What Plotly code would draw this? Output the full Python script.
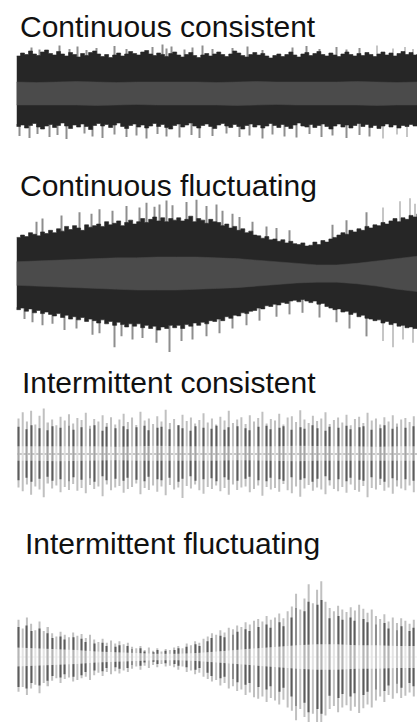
import plotly.graph_objects as go

W, H = 417, 722

TITLES = ["Continuous consistent", "Continuous fluctuating",
          "Intermittent consistent", "Intermittent fluctuating"]

# ---------- Panel 1 : continuous consistent (envelope sampled every 4 samples) ----------
cc_top = [0.76,0.82,0.79,0.86,0.80,0.77,0.84,0.88,0.81,0.78,
          0.85,0.80,0.76,0.83,0.79,0.74,0.81,0.77,0.83,0.86,
          0.80,0.75,0.79,0.73,0.78,0.82,0.76,0.80,0.85,0.81,
          0.78,0.84,0.87,0.80,0.77,0.82,0.79,0.75,0.81,0.84,
          0.78,0.74,0.79,0.83,0.77,0.73,0.78,0.81,0.76,0.80,
          0.84,0.79,0.75,0.80,0.86,0.82,0.77,0.74,0.79,0.83,
          0.78,0.81,0.76,0.72,0.77,0.80,0.75,0.79,0.84,0.78,
          0.74,0.80,0.83,0.77,0.81,0.85,0.79,0.76,0.82,0.78,
          0.75,0.80,0.84,0.79,0.76,0.81,0.77,0.83,0.79,0.75,
          0.80,0.84,0.78,0.82,0.76,0.81,0.85,0.79,0.83,0.78,
          0.80]
cc_bot = [-0.60,-0.65,-0.62,-0.68,-0.63,-0.59,-0.66,-0.70,-0.64,-0.61,
          -0.67,-0.63,-0.58,-0.64,-0.69,-0.62,-0.66,-0.60,-0.65,-0.71,
          -0.63,-0.59,-0.64,-0.61,-0.67,-0.62,-0.58,-0.65,-0.69,-0.63,
          -0.60,-0.66,-0.62,-0.68,-0.64,-0.59,-0.65,-0.61,-0.67,-0.70,
          -0.63,-0.60,-0.66,-0.62,-0.58,-0.64,-0.68,-0.63,-0.60,-0.65,
          -0.69,-0.62,-0.59,-0.64,-0.67,-0.61,-0.65,-0.70,-0.63,-0.60,
          -0.66,-0.62,-0.68,-0.64,-0.59,-0.63,-0.67,-0.61,-0.65,-0.69,
          -0.62,-0.58,-0.64,-0.66,-0.61,-0.67,-0.63,-0.60,-0.65,-0.70,
          -0.64,-0.60,-0.66,-0.62,-0.68,-0.63,-0.59,-0.65,-0.61,-0.67,
          -0.63,-0.69,-0.64,-0.60,-0.66,-0.62,-0.68,-0.63,-0.65,-0.61,
          -0.64]
cc_band_top = [0.24,0.23,0.24,0.25,0.24,0.23,0.24,0.24,0.25,0.24,0.23,
               0.24,0.25,0.24,0.24,0.23,0.24,0.25,0.24,0.23,0.24]
cc_band_bot = [-0.22,-0.23,-0.22,-0.22,-0.23,-0.22,-0.21,-0.22,-0.23,-0.22,-0.22,
               -0.23,-0.22,-0.21,-0.22,-0.23,-0.22,-0.22,-0.23,-0.22,-0.22]
cc_spk_up_x = [15,23,43,53,61,70,80,98,110,136,146,150,155,168,176,186,196,216,231,246,
               276,290,303,320,330,343,360,376,388,396]
cc_spk_up_v = [0.93,0.89,0.97,0.90,0.95,0.88,0.92,0.96,0.90,0.94,0.99,0.91,0.95,0.89,0.93,
               0.97,0.90,0.92,0.95,0.88,0.93,0.96,0.90,0.94,0.89,0.92,0.97,0.91,0.94,0.90]
cc_spk_dn_x = [3,13,21,33,41,50,68,76,86,98,110,120,130,141,150,163,175,183,196,210,223,
               233,246,256,268,280,293,305,316,330,343,353,366,380,390]
cc_spk_dn_v = [-0.84,-0.88,-0.80,-0.86,-0.82,-0.90,-0.79,-0.85,-0.88,-0.81,-0.86,-0.83,
               -0.89,-0.80,-0.85,-0.87,-0.82,-0.88,-0.84,-0.79,-0.86,-0.83,-0.89,-0.81,
               -0.85,-0.87,-0.80,-0.86,-0.83,-0.88,-0.82,-0.85,-0.89,-0.81,-0.86]

# ---------- Panel 2 : continuous fluctuating ----------
cf_top = [0.46,0.49,0.47,0.52,0.50,0.48,0.53,0.51,0.55,0.52,
          0.57,0.54,0.60,0.56,0.61,0.58,0.55,0.62,0.59,0.61,
          0.63,0.60,0.66,0.62,0.64,0.67,0.61,0.65,0.68,0.63,
          0.66,0.70,0.65,0.69,0.72,0.67,0.71,0.66,0.70,0.68,
          0.71,0.67,0.69,0.73,0.66,0.70,0.68,0.64,0.69,0.66,
          0.65,0.61,0.63,0.58,0.60,0.55,0.57,0.52,0.54,0.49,
          0.48,0.45,0.47,0.43,0.44,0.41,0.43,0.39,0.41,0.38,
          0.37,0.39,0.35,0.36,0.40,0.37,0.42,0.40,0.44,0.46,
          0.49,0.52,0.50,0.55,0.53,0.57,0.55,0.60,0.58,0.62,
          0.61,0.65,0.63,0.67,0.70,0.66,0.71,0.69,0.74,0.72,
          0.76]
cf_bot = [-0.43,-0.46,-0.44,-0.48,-0.45,-0.50,-0.47,-0.51,-0.49,-0.52,
          -0.54,-0.51,-0.56,-0.53,-0.58,-0.55,-0.59,-0.56,-0.61,-0.58,
          -0.60,-0.63,-0.59,-0.64,-0.61,-0.66,-0.62,-0.65,-0.68,-0.64,
          -0.67,-0.64,-0.69,-0.66,-0.70,-0.67,-0.72,-0.68,-0.70,-0.66,
          -0.69,-0.66,-0.70,-0.65,-0.67,-0.63,-0.66,-0.62,-0.64,-0.60,
          -0.61,-0.58,-0.60,-0.55,-0.57,-0.53,-0.54,-0.50,-0.51,-0.48,
          -0.47,-0.44,-0.45,-0.41,-0.42,-0.39,-0.40,-0.37,-0.38,-0.35,
          -0.34,-0.36,-0.33,-0.35,-0.37,-0.35,-0.39,-0.38,-0.42,-0.44,
          -0.46,-0.45,-0.49,-0.48,-0.52,-0.50,-0.55,-0.53,-0.57,-0.58,
          -0.60,-0.59,-0.63,-0.61,-0.65,-0.63,-0.67,-0.66,-0.69,-0.68,
          -0.70]
cf_band_top = [0.15,0.16,0.17,0.18,0.19,0.20,0.20,0.21,0.21,0.21,0.20,
               0.19,0.17,0.15,0.13,0.11,0.11,0.13,0.16,0.19,0.22]
cf_band_bot = [-0.15,-0.16,-0.17,-0.18,-0.19,-0.20,-0.21,-0.21,-0.21,-0.20,-0.19,
               -0.18,-0.16,-0.14,-0.12,-0.11,-0.11,-0.13,-0.16,-0.20,-0.23]
cf_spk_up_x = [20,26,45,63,75,83,96,110,123,130,138,143,150,156,170,180,190,200,206,216,
               223,236,250,260,273,316,330,350,366,383,393,398]
cf_spk_up_v = [0.66,0.70,0.74,0.78,0.76,0.82,0.80,0.86,0.84,0.90,0.85,0.88,0.93,0.87,0.91,
               0.94,0.86,0.88,0.80,0.76,0.72,0.66,0.60,0.58,0.55,0.62,0.68,0.78,0.84,0.92,
               0.96,0.89]
cf_spk_dn_x = [8,16,26,36,48,60,76,83,98,105,116,126,140,153,165,176,190,203,216,230,243,
               260,273,286,303,320,333,350,366,376,386,396]
cf_spk_dn_v = [-0.58,-0.62,-0.66,-0.64,-0.72,-0.70,-0.78,-0.76,-0.94,-0.80,-0.84,-0.82,
               -0.88,-1.00,-0.86,-0.84,-0.80,-0.76,-0.70,-0.66,-0.60,-0.55,-0.52,-0.50,
               -0.56,-0.62,-0.70,-0.80,-0.86,-0.94,-0.84,-0.88]

# ---------- Panel 3 : intermittent consistent (one entry per burst) ----------
ic_up = [0.72,0.85,0.66,0.88,0.60,0.78,0.93,0.64,0.70,0.58,0.76,0.68,0.81,0.62,0.73,0.69,
         0.84,0.57,0.71,0.66,0.79,0.63,0.75,0.60,0.70,0.82,0.65,0.74,0.59,0.86,0.68,0.72,
         0.61,0.77,0.66,0.90,0.63,0.71,0.58,0.80,0.67,0.74,0.62,0.69,0.83,0.64,0.72,0.60,
         0.76,0.68,0.88,0.63,0.70,0.75,0.61,0.79,0.66,0.73,0.86,0.62,0.71,0.68,0.82,0.60,
         0.74,0.77,0.65,0.89,0.70,0.63,0.78,0.67,0.72,0.85,0.61,0.69,0.74,0.64,0.80,0.58,
         0.71,0.76,0.63,0.84,0.68,0.72,0.60,0.75,0.66,0.79,0.62,0.70,0.73,0.65,0.77]
ic_dn = [-0.70,-0.78,-0.64,-0.85,-0.68,-0.74,-0.90,-0.62,-0.72,-0.66,-0.80,-0.69,-0.75,
         -0.63,-0.77,-0.71,-0.82,-0.65,-0.73,-0.68,-0.88,-0.64,-0.76,-0.70,-0.67,-0.81,
         -0.73,-0.69,-0.62,-0.84,-0.71,-0.75,-0.66,-0.79,-0.68,-0.86,-0.65,-0.74,-0.70,
         -0.92,-0.67,-0.72,-0.64,-0.76,-0.83,-0.69,-0.73,-0.66,-0.78,-0.71,-0.85,-0.64,
         -0.75,-0.70,-0.68,-0.80,-0.73,-0.66,-0.87,-0.69,-0.74,-0.71,-0.79,-0.63,-0.76,
         -0.82,-0.68,-0.89,-0.72,-0.65,-0.77,-0.70,-0.74,-0.84,-0.66,-0.73,-0.78,-0.69,
         -0.81,-0.64,-0.75,-0.79,-0.67,-0.90,-0.71,-0.74,-0.65,-0.77,-0.70,-0.83,-0.68,
         -0.72,-0.76,-0.66,-0.80]
ic_dark = [0.55,0,0.50,0.58,0,0.52,0,0.48,0.56,0,0.53,0,0.57,0.49,0,0.54,0,0.51,0.58,0,
           0.47,0.55,0,0.52,0,0.56,0.50,0,0.54,0,0.57,0.48,0,0.53,0.55,0,0.50,0,0.58,0.52,
           0,0.47,0.56,0,0.53,0,0.51,0.57,0,0.49,0.54,0,0.56,0,0.52,0.48,0,0.55,0,0.57,
           0.50,0,0.53,0.56,0,0.49,0,0.54,0.51,0,0.58,0.52,0,0.47,0.55,0,0.53,0,0.57,0.50,
           0,0.54,0.56,0,0.49,0,0.52,0.58,0,0.51,0.55,0,0.53,0,0.56]
ic_band = [0.15,0.15,0.16,0.15,0.15,0.14,0.15,0.16,0.15,0.15,0.15,
           0.14,0.15,0.15,0.16,0.15,0.15,0.15,0.14,0.15,0.15]

# ---------- Panel 4 : intermittent fluctuating ----------
if_up = [0.47,0.36,0.50,0.42,0.34,0.45,0.33,0.38,
         0.30,0.26,0.32,0.28,0.25,0.31,0.27,0.29,0.24,0.28,
         0.22,0.19,0.23,0.18,0.21,0.17,0.20,0.16,0.18,
         0.13,0.11,0.14,0.09,0.12,0.08,0.11,0.07,0.10,0.09,
         0.12,0.14,0.11,0.17,0.15,0.20,0.18,0.23,0.26,
         0.30,0.28,0.34,0.31,0.37,0.35,0.40,0.38,0.44,0.41,0.46,
         0.48,0.45,0.52,0.47,0.50,0.55,0.49,0.58,
         0.64,0.80,0.60,0.74,0.92,0.68,0.85,0.96,0.70,
         0.62,0.58,0.65,0.60,0.57,0.63,0.59,0.66,0.61,0.56,0.60,
         0.52,0.48,0.54,0.45,0.50,0.43,0.49,0.46,0.42,0.47]
if_dn = [-0.44,-0.38,-0.48,-0.40,-0.35,-0.46,-0.33,-0.37,
         -0.30,-0.27,-0.33,-0.28,-0.26,-0.31,-0.29,-0.27,-0.25,-0.29,
         -0.23,-0.20,-0.24,-0.19,-0.22,-0.18,-0.21,-0.17,-0.19,
         -0.15,-0.12,-0.16,-0.11,-0.14,-0.10,-0.13,-0.09,-0.12,-0.11,
         -0.13,-0.16,-0.12,-0.19,-0.17,-0.22,-0.20,-0.25,-0.28,
         -0.31,-0.29,-0.36,-0.33,-0.40,-0.37,-0.43,-0.41,-0.48,-0.45,-0.51,
         -0.53,-0.50,-0.57,-0.52,-0.55,-0.60,-0.54,-0.64,
         -0.68,-0.80,-0.66,-0.76,-0.88,-0.72,-0.84,-0.86,-0.74,
         -0.66,-0.62,-0.70,-0.64,-0.61,-0.68,-0.63,-0.71,-0.65,-0.60,-0.64,
         -0.55,-0.50,-0.57,-0.48,-0.53,-0.46,-0.52,-0.49,-0.45,-0.50]
if_dark = [0.38,0,0.40,0.33,0,0.36,0,0.30,
           0.24,0,0.26,0.22,0,0.25,0,0.23,0.19,0,
           0.17,0,0.18,0.14,0,0.13,0.15,0,0.14,
           0.10,0,0.11,0.07,0,0.06,0.09,0,0.08,0,
           0.09,0.11,0,0.13,0,0.16,0.14,0,0.20,
           0.24,0,0.27,0.25,0,0.28,0.32,0,0.35,0.33,0,
           0.38,0,0.41,0.37,0,0.44,0.39,0,
           0.50,0.62,0,0.58,0.70,0,0.66,0.72,0,
           0.49,0,0.52,0.47,0,0.50,0.46,0,0.48,0.44,0,
           0.41,0,0.43,0.36,0,0.34,0.39,0,0.33,0.37]
if_band = [0.12,0.11,0.10,0.09,0.07,0.06,0.05,0.04,0.04,0.05,0.07,
           0.09,0.11,0.13,0.15,0.16,0.16,0.15,0.15,0.14,0.14]

# ---------- sampling steps (x units = samples) ----------
ENV_STEP = 4
BAND_STEP = 20
BURST_GAP = 4.2
BURST_START = 2

C_BODY = "#262626"
C_BAND = "#4b4b4b"
C_SPIKE = "#8e8e8e"
C_LIGHT = "#c0c0c0"
C_DARK = "#5c5c5c"

fig = go.Figure()


def polygon(top, bot, step):
    xt = [i * step for i in range(len(top))]
    xb = [i * step for i in range(len(bot))]
    return xt + xb[::-1], list(top) + list(bot)[::-1]


def continuous(yref, top, bot, btop, bbot, ux, uv, dx, dv):
    fig.add_trace(go.Bar(x=ux, y=uv, width=0.9, marker=dict(color=C_SPIKE, line_width=0),
                         yaxis=yref))
    fig.add_trace(go.Bar(x=dx, y=dv, width=0.9, marker=dict(color=C_SPIKE, line_width=0),
                         yaxis=yref))
    px, py = polygon(top, bot, ENV_STEP)
    fig.add_trace(go.Scatter(x=px, y=py, fill="toself", fillcolor=C_BODY, mode="lines",
                             line=dict(color=C_BODY, width=0.6, shape="hv"), yaxis=yref))
    px, py = polygon(btop, bbot, BAND_STEP)
    fig.add_trace(go.Scatter(x=px, y=py, fill="toself", fillcolor=C_BAND, mode="lines",
                             line=dict(color=C_BAND, width=0.5), yaxis=yref))


def intermittent(yref, up, dn, dark, band, band_rgba):
    n = min(len(up), len(dn), len(dark))
    xs = [BURST_START + i * BURST_GAP for i in range(n)]
    fig.add_trace(go.Bar(x=xs, y=[up[i] - dn[i] for i in range(n)], base=dn[:n], width=2.0,
                         marker=dict(color=C_LIGHT, line_width=0), yaxis=yref))
    fig.add_trace(go.Bar(x=xs, y=[2 * d for d in dark[:n]], base=[-d for d in dark[:n]],
                         width=0.9, marker=dict(color=C_DARK, line_width=0), yaxis=yref))
    px, py = polygon(band, [-b for b in band], BAND_STEP)
    fig.add_trace(go.Scatter(x=px, y=py, fill="toself", fillcolor=band_rgba, mode="lines",
                             line=dict(width=0), yaxis=yref))


continuous("y", cc_top, cc_bot, cc_band_top, cc_band_bot,
           cc_spk_up_x, cc_spk_up_v, cc_spk_dn_x, cc_spk_dn_v)
continuous("y2", cf_top, cf_bot, cf_band_top, cf_band_bot,
           cf_spk_up_x, cf_spk_up_v, cf_spk_dn_x, cf_spk_dn_v)
intermittent("y3", ic_up, ic_dn, ic_dark, ic_band, "rgba(255,255,255,0.45)")
intermittent("y4", if_up, if_dn, if_dark, if_band, "rgba(255,255,255,0.55)")


def yax(dom, rng, zero=False, zcol="#999999", zw=2):
    return dict(domain=dom, range=rng, showgrid=False, showticklabels=False, ticks="",
                showline=False, zeroline=zero, zerolinecolor=zcol, zerolinewidth=zw,
                layer="above traces", anchor="x", fixedrange=True)


fig.update_layout(
    width=W, height=H,
    margin=dict(l=0, r=0, t=0, b=0),
    paper_bgcolor="white", plot_bgcolor="white",
    showlegend=False, hovermode=False, barmode="overlay",
    xaxis=dict(domain=[16.5 / W, 1], range=[0, 400], visible=False, fixedrange=True),
    yaxis=yax([1 - 142 / H, 1 - 42 / H], [-0.96, 1.04]),
    yaxis2=yax([1 - 356 / H, 1 - 195 / H], [-1.05, 1.0]),
    yaxis3=yax([1 - 502 / H, 1 - 405 / H], [-1.0, 1.0], True, "#9a9a9a", 2),
    yaxis4=yax([0, 1 - 578 / H], [-0.823, 1.0], True, "#eeeeee", 1.5),
)

title_y = [27, 185, 382.5, 543.5]
title_x = [18, 18, 20, 23]
for t, ty, tx in zip(TITLES, title_y, title_x):
    fig.add_annotation(text=t, x=tx / W, y=1 - ty / H, xref="paper", yref="paper",
                       xanchor="left", yanchor="middle", showarrow=False,
                       font=dict(family="Liberation Sans, Arial, sans-serif", size=30,
                                 color="#111111"))

fig.write_html("out.html")
